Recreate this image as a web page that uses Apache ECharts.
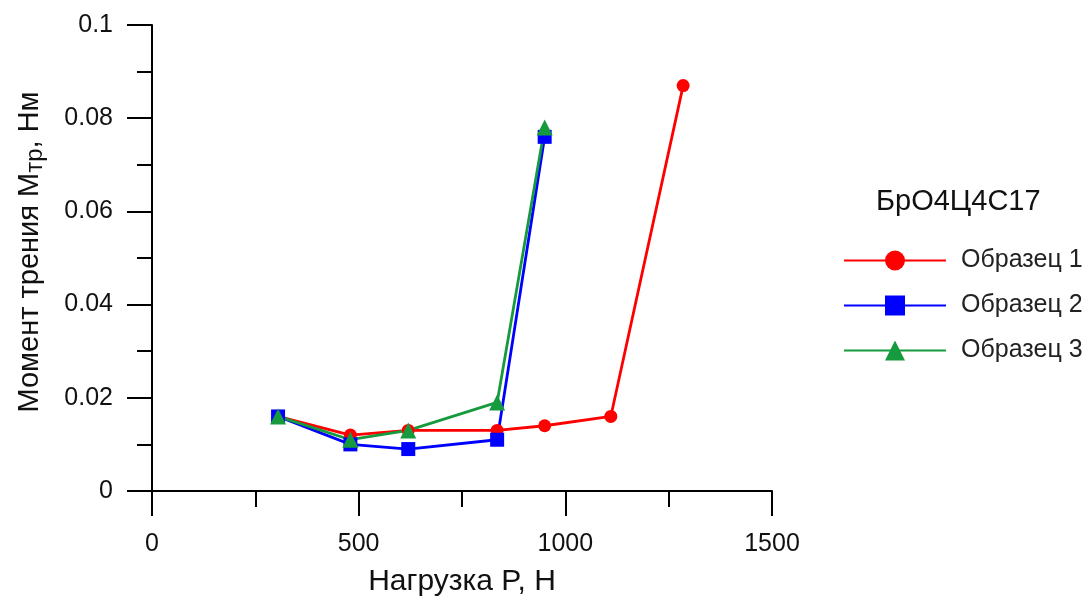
<!DOCTYPE html>
<html>
<head>
<meta charset="utf-8">
<script src="https://cdn.jsdelivr.net/npm/echarts@6/dist/echarts.min.js"></script>
<style>
  html, body { margin: 0; padding: 0; background: #fff; }
  #chart { width: 1086px; height: 599px; }
</style>
</head>
<body>
<div id="chart"></div>
<script>
// Load P (N) for each test point
const loads1 = [305, 480, 620, 835, 950, 1110, 1285];
const loads2 = [305, 480, 620, 835, 950];
const loads3 = [305, 480, 620, 835, 950];

// Friction torque (N·m)
const torque1 = [0.016, 0.012, 0.013, 0.013, 0.014, 0.016, 0.087];
const torque2 = [0.016, 0.010, 0.009, 0.011, 0.076];
const torque3 = [0.016, 0.011, 0.013, 0.019, 0.078];

const seriesNames = ['Образец 1', 'Образец 2', 'Образец 3'];
const materialTitle = 'БрО4Ц4С17';
const xTicks = [0, 500, 1000, 1500];
const yTicks = [0, 0.02, 0.04, 0.06, 0.08, 0.1];

const font = 'Liberation Sans, Arial, sans-serif';
const pair = (xs, ys) => xs.map((x, i) => [x, ys[i]]);

const chart = echarts.init(document.getElementById('chart'), null, { renderer: 'canvas' });

function makeSeries(name, data, color, symbol, size) {
  return {
    name: name,
    type: 'line',
    data: data,
    symbol: symbol,
    symbolSize: size,
    showAllSymbol: true,
    lineStyle: { color: color, width: 2.8 },
    itemStyle: { color: color },
    emphasis: { disabled: true },
    animation: false
  };
}

const axisLine = { show: true, onZero: false, lineStyle: { color: '#000', width: 2 } };

chart.setOption({
  backgroundColor: '#ffffff',
  animation: false,
  title: {
    text: materialTitle,
    left: 871,
    top: 182,
    textStyle: { fontFamily: font, fontSize: 29, fontWeight: 'normal', color: '#111' }
  },
  legend: {
    orient: 'vertical',
    left: 838,
    top: 243,
    itemWidth: 102,
    itemHeight: 25,
    itemGap: 20,
    data: seriesNames,
    textStyle: { fontFamily: font, fontSize: 25, color: '#222', padding: [0, 0, 0, 10] }
  },
  grid: { left: 152, right: 314, top: 25, bottom: 108, containLabel: false, outerBoundsMode: 'none' },
  xAxis: {
    type: 'value',
    min: xTicks[0],
    max: xTicks[xTicks.length - 1],
    interval: 500,
    name: 'Нагрузка P, H',
    nameLocation: 'middle',
    nameGap: 76,
    nameTextStyle: { fontFamily: font, fontSize: 30, color: '#111' },
    axisLine: axisLine,
    axisTick: { show: true, inside: false, length: 25, lineStyle: { color: '#000', width: 2 } },
    minorTick: { show: true, splitNumber: 2, length: 16, lineStyle: { color: '#000', width: 2 } },
    splitLine: { show: false },
    axisLabel: {
      margin: 41, fontFamily: font, fontSize: 25, color: '#111',
      formatter: v => String(v)
    }
  },
  yAxis: {
    type: 'value',
    min: yTicks[0],
    max: yTicks[yTicks.length - 1],
    interval: 0.02,
    name: 'Момент трения M{sub|тр}, Нм',
    nameLocation: 'middle',
    nameGap: 105,
    nameTextStyle: {
      fontFamily: font, fontSize: 29, color: '#111', padding: [0, 0, 0, 12],
      rich: { sub: { fontFamily: font, fontSize: 24, color: '#111', verticalAlign: 'bottom', padding: [10, 0, 0, 0] } }
    },
    axisLine: axisLine,
    axisTick: { show: true, inside: false, length: 25, lineStyle: { color: '#000', width: 2 } },
    minorTick: { show: true, splitNumber: 2, length: 15, lineStyle: { color: '#000', width: 2 } },
    splitLine: { show: false },
    axisLabel: {
      margin: 39, fontFamily: font, fontSize: 25, color: '#111',
      formatter: v => (Math.round(v * 100) / 100).toString()
    }
  },
  series: [
    makeSeries(seriesNames[0], pair(loads1, torque1), '#ff0000', 'circle', 13),
    makeSeries(seriesNames[1], pair(loads2, torque2), '#0000ff', 'rect', 14),
    makeSeries(seriesNames[2], pair(loads3, torque3), '#169a3e', 'triangle', 16)
  ]
});
</script>
</body>
</html>
